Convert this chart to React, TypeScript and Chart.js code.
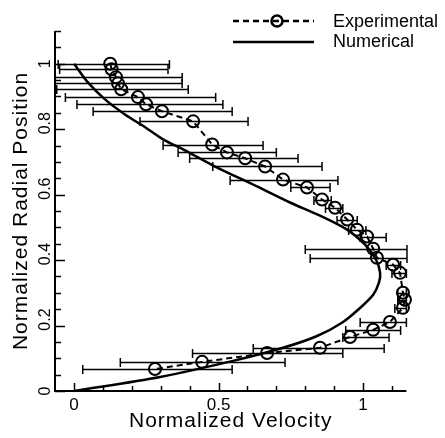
import React, { useEffect, useRef } from "react";
import { Chart, registerables } from "chart.js";

Chart.register(...registerables);

// ---- Data ----
const seriesNames = ["Experimental", "Numerical"];
const xTitle = "Normalized Velocity";
const yTitle = "Normalized Radial Position";

const xTickValues = [0, 0.5, 1];
const xTickLabels = ["0", "0.5", "1"];
const yTickValues = [0, 0.2, 0.4, 0.6, 0.8, 1];
const yTickLabels = ["0", "0.2", "0.4", "0.6", "0.8", "1"];

const expX = [0.125, 0.13, 0.145, 0.152, 0.163, 0.221, 0.249, 0.304, 0.412, 0.478, 0.529, 0.592, 0.661, 0.723, 0.806, 0.858, 0.903, 0.945, 0.979, 1.014, 1.035, 1.048, 1.104, 1.128, 1.138, 1.145, 1.138, 1.093, 1.035, 0.955, 0.851, 0.668, 0.443, 0.28];
const expY = [1.0, 0.983, 0.959, 0.94, 0.922, 0.898, 0.876, 0.855, 0.824, 0.753, 0.729, 0.711, 0.686, 0.646, 0.622, 0.585, 0.56, 0.524, 0.493, 0.472, 0.435, 0.407, 0.386, 0.361, 0.3, 0.279, 0.254, 0.211, 0.187, 0.165, 0.132, 0.116, 0.089, 0.067];
const expLo = [-0.055, -0.05, -0.065, -0.065, -0.06, -0.03, 0.01, 0.066, 0.228, 0.308, 0.36, 0.4, 0.48, 0.54, 0.75, 0.83, 0.87, 0.91, 0.95, 0.99, 0.8, 0.817, 1.08, 1.1, 1.12, 1.12, 1.11, 0.99, 0.94, 0.93, 0.62, 0.41, 0.16, 0.03];
const expHi = [0.33, 0.325, 0.374, 0.374, 0.395, 0.49, 0.515, 0.547, 0.602, 0.654, 0.7, 0.775, 0.858, 0.913, 0.886, 0.89, 0.93, 0.98, 1.01, 1.08, 1.152, 1.152, 1.13, 1.15, 1.15, 1.15, 1.15, 1.15, 1.13, 1.09, 1.073, 0.93, 0.73, 0.547];

const numX = [0, 0.048, 0.107, 0.176, 0.246, 0.308, 0.384, 0.481, 0.633, 0.747, 0.851, 0.945, 1.007, 1.045, 1.059, 1.055, 1.035, 0.99, 0.931, 0.841, 0.723, 0.55, 0.298, 0];
const numY = [1.0, 0.943, 0.891, 0.845, 0.806, 0.769, 0.735, 0.689, 0.625, 0.576, 0.536, 0.493, 0.447, 0.401, 0.361, 0.331, 0.294, 0.254, 0.211, 0.168, 0.132, 0.092, 0.043, 0];

const xMin = -0.066;
const xMax = 1.15;
const yMin = 0;
const yMax = 1.1;
const xMinorStep = 0.1;
const yMinorStep = 0.05;

const FONT = '"Liberation Sans", Arial, Helvetica, sans-serif';

const overlayPlugin = {
  id: "overlay",
  beforeDatasetsDraw(chart: any) {
    const { ctx, chartArea: a } = chart;
    const x = chart.scales.x;
    const y = chart.scales.y;
    ctx.save();
    ctx.beginPath();
    ctx.rect(a.left + 1, a.top - 5, a.right - a.left + 2, a.bottom - a.top + 10);
    ctx.clip();
    ctx.strokeStyle = "#000";
    ctx.lineWidth = 1.5;
    const cap = 4.5;
    for (let i = 0; i < expX.length; i++) {
      const py = Math.round(y.getPixelForValue(expY[i])) + 0.5;
      const x0 = x.getPixelForValue(expLo[i]);
      const x1 = x.getPixelForValue(expHi[i]);
      ctx.beginPath();
      ctx.moveTo(x0, py);
      ctx.lineTo(x1, py);
      ctx.moveTo(x0, py - cap);
      ctx.lineTo(x0, py + cap);
      ctx.moveTo(x1, py - cap);
      ctx.lineTo(x1, py + cap);
      ctx.stroke();
    }
    ctx.restore();
  },
  afterDraw(chart: any) {
    const { ctx, chartArea: a } = chart;
    const x = chart.scales.x;
    const y = chart.scales.y;
    ctx.save();
    ctx.strokeStyle = "#000";
    ctx.fillStyle = "#000";
    // axis lines
    ctx.lineWidth = 2;
    ctx.beginPath();
    ctx.moveTo(a.left, a.top);
    ctx.lineTo(a.left, a.bottom);
    ctx.lineTo(a.right, a.bottom);
    ctx.stroke();
    // x ticks (inward)
    ctx.lineWidth = 1.5;
    for (let v = 0; v <= xMax + 1e-9; v += xMinorStep) {
      const vv = Math.round(v * 1000) / 1000;
      const px = Math.round(x.getPixelForValue(vv)) + 0.5;
      const major = xTickValues.some((t) => Math.abs(t - vv) < 1e-6);
      ctx.beginPath();
      ctx.moveTo(px, a.bottom);
      ctx.lineTo(px, a.bottom - (major ? 8 : 5));
      ctx.stroke();
    }
    // y ticks (inward)
    for (let v = yMin; v <= yMax + 1e-9; v += yMinorStep) {
      const vv = Math.round(v * 1000) / 1000;
      const py = Math.round(y.getPixelForValue(vv)) + 0.5;
      const major = yTickValues.some((t) => Math.abs(t - vv) < 1e-6);
      ctx.beginPath();
      ctx.moveTo(a.left, py);
      ctx.lineTo(a.left + (major ? 10 : 6), py);
      ctx.stroke();
    }
    // x tick labels
    ctx.font = `17px ${FONT}`;
    ctx.textAlign = "center";
    ctx.textBaseline = "alphabetic";
    xTickValues.forEach((v, i) => {
      ctx.fillText(xTickLabels[i], x.getPixelForValue(v), a.bottom + 19);
    });
    // y tick labels (rotated)
    ctx.font = `16px ${FONT}`;
    yTickValues.forEach((v, i) => {
      const lab = yTickLabels[i];
      const py = y.getPixelForValue(v) - (lab.length > 1 ? 6 : 0);
      ctx.save();
      ctx.translate(a.left - 5, py);
      ctx.rotate(-Math.PI / 2);
      ctx.fillText(lab, 0, 0);
      ctx.restore();
    });
    // axis titles
    ctx.font = `21px ${FONT}`;
    (ctx as any).letterSpacing = "1px";
    ctx.fillText(xTitle, (a.left + a.right) / 2, a.bottom + 36);
    ctx.save();
    ctx.translate(a.left - 28, (a.top + a.bottom) / 2);
    ctx.rotate(-Math.PI / 2);
    ctx.fillText(yTitle, 0, 0);
    ctx.restore();
    (ctx as any).letterSpacing = "0px";
    // legend
    const lx0 = 233;
    const lx1 = 314;
    const ly1 = 21;
    const ly2 = 42;
    ctx.lineWidth = 2.5;
    ctx.setLineDash([6, 4]);
    ctx.beginPath();
    ctx.moveTo(lx0, ly1);
    ctx.lineTo(lx1, ly1);
    ctx.stroke();
    ctx.setLineDash([]);
    ctx.lineWidth = 2.5;
    ctx.beginPath();
    ctx.arc(277, ly1, 5.5, 0, Math.PI * 2);
    ctx.stroke();
    ctx.lineWidth = 2.5;
    ctx.beginPath();
    ctx.moveTo(lx0, ly2);
    ctx.lineTo(lx1, ly2);
    ctx.stroke();
    ctx.font = `18px ${FONT}`;
    ctx.textAlign = "left";
    ctx.textBaseline = "middle";
    ctx.fillText(seriesNames[0], 333, ly1 + 1);
    ctx.fillText(seriesNames[1], 333, ly2);
    ctx.restore();
  },
};

export default function App() {
  const canvasRef = useRef<HTMLCanvasElement | null>(null);

  useEffect(() => {
    const canvas = canvasRef.current;
    if (!canvas) return;
    const chart = new Chart(canvas, {
      type: "scatter",
      data: {
        datasets: [
          {
            label: seriesNames[1],
            data: numX.map((v, i) => ({ x: v, y: numY[i] })),
            showLine: true,
            borderColor: "#000",
            borderWidth: 2.5,
            pointRadius: 0,
            tension: 0.3,
            clip: false as any,
          },
          {
            label: seriesNames[0],
            data: expX.map((v, i) => ({ x: v, y: expY[i] })),
            showLine: true,
            borderColor: "#000",
            borderWidth: 2,
            borderDash: [6, 4],
            pointRadius: 6,
            pointBorderWidth: 2,
            pointBorderColor: "#000",
            pointBackgroundColor: "rgba(0,0,0,0)",
            pointStyle: "circle",
            tension: 0,
            clip: false as any,
          },
        ],
      },
      options: {
        animation: false,
        responsive: true,
        maintainAspectRatio: false,
        layout: { padding: { left: 55, right: 38.6, top: 31, bottom: 47 } },
        scales: {
          x: { type: "linear", min: xMin, max: xMax, display: false },
          y: { type: "linear", min: yMin, max: yMax, display: false },
        },
        plugins: {
          legend: { display: false },
          tooltip: { enabled: false },
        },
      },
      plugins: [overlayPlugin],
    });
    return () => chart.destroy();
  }, []);

  return (
    <div style={{ position: "fixed", left: 0, top: 0, width: 445, height: 438, background: "#fff" }}>
      <canvas ref={canvasRef} />
    </div>
  );
}
